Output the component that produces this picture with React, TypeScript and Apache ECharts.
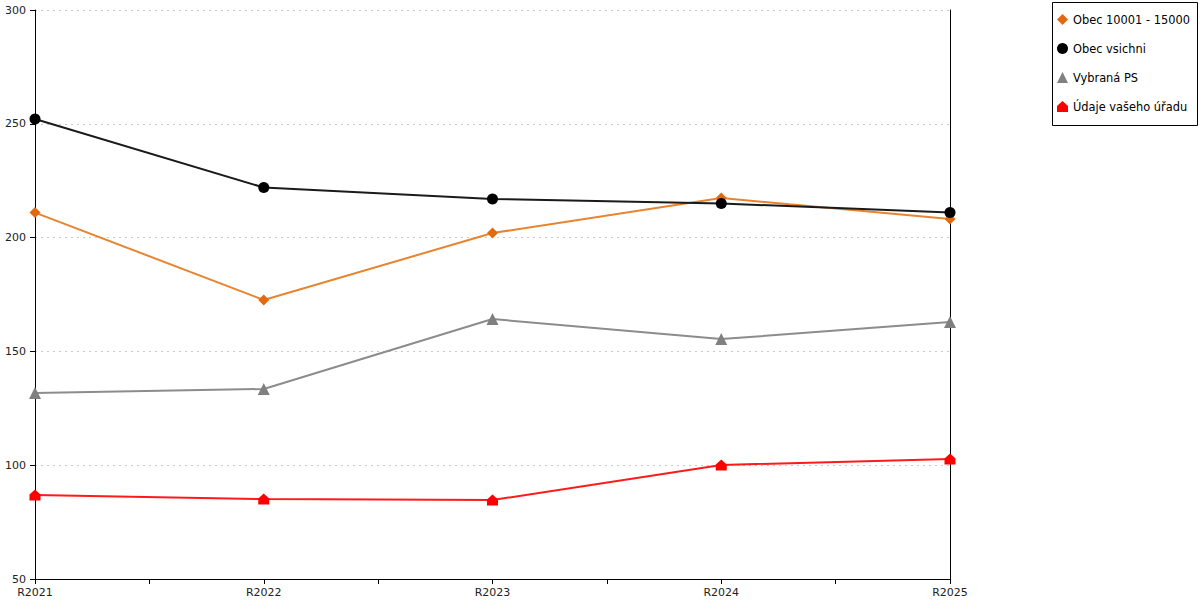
import React, { useEffect, useRef } from "react";
import * as echarts from "echarts";

const categories = ["R2021", "R2022", "R2023", "R2024", "R2025"];
const seriesNames = ["Obec 10001 - 15000", "Obec vsichni", "Vybraná PS", "Údaje vašeho úřadu"];
const obec10001 = [211, 172.6, 202, 217.4, 208.2];
const obecVsichni = [252.1, 222, 217, 215, 211];
const vybranaPS = [131.7, 133.5, 164.2, 155.4, 162.9];
const udajeUradu = [86.9, 85.1, 84.7, 100.1, 102.7];
const yTicks = [50, 100, 150, 200, 250, 300];

const HOUSE = "path://M5,0 L10,4.5 L10,10 L0,10 L0,4.5 Z";

export default function App() {
  const ref = useRef<HTMLDivElement>(null);
  useEffect(() => {
    document.body.style.margin = "0";
    if (!ref.current) return;
    const chart = echarts.init(ref.current, undefined, { renderer: "svg" });
    const font = "DejaVu Sans";
    const toPairs = (arr: number[]) => arr.map((v, i) => [i, v]);
    const mk = (name: string, data: number[], color: string, symbol: string, size: number, markerColor?: string) => ({
      name,
      type: "line",
      data: toPairs(data),
      symbol,
      symbolSize: size,
      showAllSymbol: true,
      lineStyle: { color, width: 2 },
      itemStyle: { color: markerColor || color },
      z: 3,
    });
    chart.setOption({
      animation: false,
      backgroundColor: "#fff",
      textStyle: { fontFamily: font },
      grid: { left: 35, right: 250, top: 10, bottom: 21, containLabel: false },
      xAxis: {
        type: "value",
        min: 0,
        max: categories.length - 1,
        interval: 0.5,
        axisLine: { show: true, onZero: false, lineStyle: { color: "#000", width: 1 } },
        axisTick: { show: true, length: 5, lineStyle: { color: "#000" } },
        splitLine: { show: false },
        axisLabel: {
          color: "#222",
          fontSize: 11,
          fontFamily: font,
          margin: 8,
          showMinLabel: true,
          showMaxLabel: true,
          formatter: (v: number) => (Number.isInteger(v) ? categories[v] : ""),
        },
      },
      yAxis: [
        {
          type: "value",
          min: yTicks[0],
          max: yTicks[yTicks.length - 1],
          interval: 50,
          axisLine: { show: true, lineStyle: { color: "#000", width: 1 } },
          axisTick: { show: true, length: 5, lineStyle: { color: "#000" } },
          splitLine: { show: true, lineStyle: { color: "#c8c8c8", type: [2, 4], width: 1 } },
          axisLabel: { color: "#222", fontSize: 11, fontFamily: font, margin: 9 },
        },
        {
          type: "value",
          position: "right",
          min: yTicks[0],
          max: yTicks[yTicks.length - 1],
          interval: 50,
          axisLine: { show: true, lineStyle: { color: "#000", width: 1 } },
          axisTick: { show: false },
          splitLine: { show: false },
          axisLabel: { show: false },
        },
      ],
      legend: {
        orient: "vertical",
        left: 1052,
        top: 2,
        padding: [12, 4, 10, 5],
        itemGap: 18,
        itemWidth: 11,
        itemHeight: 11,
        textStyle: { color: "#000", fontSize: 11.4, fontFamily: font },
        data: [
          { name: seriesNames[0], icon: "diamond", itemStyle: { color: "#e2690d" } },
          { name: seriesNames[1], icon: "circle", itemStyle: { color: "#000" } },
          { name: seriesNames[2], icon: "triangle", itemStyle: { color: "#808080" } },
          { name: seriesNames[3], icon: HOUSE, itemStyle: { color: "#ff0000" } },
        ],
      },
      graphic: [
        {
          type: "rect",
          x: 0,
          y: 0,
          shape: { x: 1052.5, y: 2.5, width: 145, height: 123 },
          style: { fill: "none", stroke: "#000", lineWidth: 1 },
          z: 100,
        },
      ],
      series: [
        mk(seriesNames[0], obec10001, "#e8842f", "diamond", 11, "#e2690d"),
        mk(seriesNames[1], obecVsichni, "#1a1a1a", "circle", 11, "#000"),
        mk(seriesNames[2], vybranaPS, "#8c8c8c", "triangle", 12, "#808080"),
        mk(seriesNames[3], udajeUradu, "#ff1a1a", HOUSE, 11, "#ff0000"),
      ],
    });
    return () => chart.dispose();
  }, []);
  return <div ref={ref} style={{ width: 1200, height: 600 }} />;
}
